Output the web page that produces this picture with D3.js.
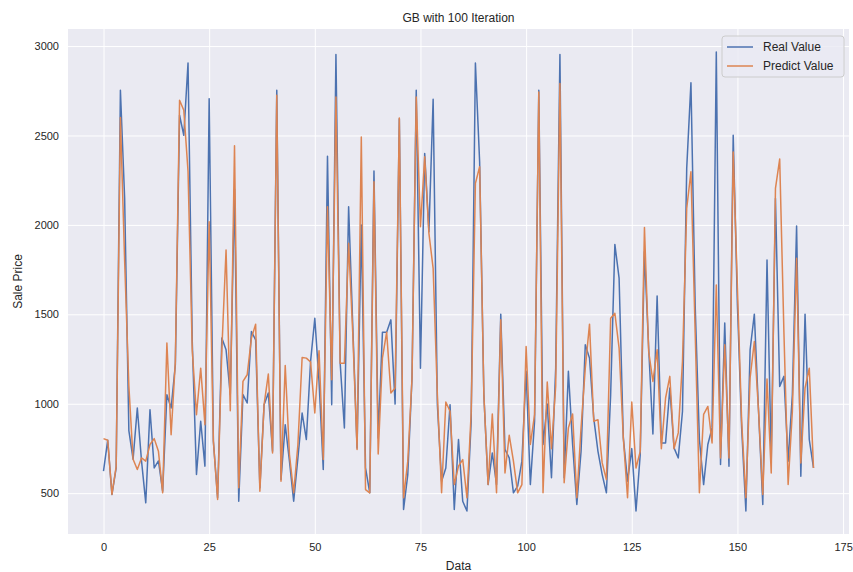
<!DOCTYPE html>
<html>
<head>
<meta charset="utf-8">
<script src="https://cdn.jsdelivr.net/npm/d3@7"></script>
<style>
  body { margin: 0; background: #fff; }
  text { font-family: "Liberation Sans", Arial, sans-serif; fill: #262626; }
</style>
</head>
<body>
<div id="chart"></div>
<script>
// values
const realValue = [
  623, 796, 493, 641, 2753, 2150, 850, 690, 976, 680,
  446, 967, 641, 680, 511, 1050, 976, 1218, 2613, 2501,
  2905, 1350, 604, 902, 651, 2706, 790, 474, 1367, 1302,
  1050, 2200, 455, 1051, 1004, 1404, 1357, 530, 995, 1060,
  734, 2753, 576, 883, 679, 455, 697, 948, 800, 1237,
  1478, 1125, 632, 2384, 995, 2953, 1227, 865, 2101, 1423,
  753, 1999, 641, 502, 2301, 809, 1400, 1400, 1469, 998,
  2594, 409, 604, 1144, 2753, 1199, 2399, 1962, 2702, 995,
  567, 641, 995, 409, 800, 455, 400, 900, 2905, 2353,
  1051, 548, 725, 548, 1501, 744, 697, 502, 539, 679,
  1181, 548, 902, 2753, 772, 998, 586, 1200, 2953, 586,
  1181, 772, 437, 734, 1330, 1255, 920, 734, 604, 502,
  1051, 1891, 1702, 809, 567, 749, 400, 716, 1850, 1311,
  831, 1603, 781, 781, 1088, 753, 697, 958, 2316, 2795,
  1550, 800, 548, 772, 865, 2967, 660, 1451, 651, 2501,
  1550, 865, 400, 1302, 1501, 958, 437, 1804, 679, 2148,
  1097, 1153, 679, 1051, 1994, 595, 1501, 800, 641
];
const predictValue = [
  805, 796, 493, 650, 2600, 1800, 1100, 690, 632, 697,
  679, 772, 805, 734, 502, 1339, 827, 1237, 2697, 2641,
  2300, 1300, 939, 1199, 883, 2018, 790, 465, 1300, 1860,
  961, 2442, 530, 1125, 1162, 1367, 1445, 511, 995, 1166,
  725, 2725, 567, 1214, 716, 502, 772, 1259, 1255, 1233,
  948, 1296, 688, 2101, 1134, 2715, 1227, 1227, 1897, 1385,
  744, 2492, 520, 502, 2241, 719, 1255, 1400, 1060, 1088,
  2598, 474, 679, 1144, 2715, 1990, 2381, 1953, 1757, 1051,
  502, 1010, 958, 548, 651, 688, 474, 950, 2232, 2325,
  1051, 548, 943, 502, 1469, 613, 824, 679, 502, 548,
  1320, 772, 939, 2743, 502, 1121, 749, 1100, 2790, 558,
  865, 943, 474, 865, 1199, 1445, 902, 911, 669, 576,
  1478, 1506, 1311, 809, 474, 1010, 641, 734, 1986, 1292,
  1125, 1302, 749, 1032, 1153, 749, 837, 1237, 2092, 2297,
  1400, 502, 940, 985, 781, 1664, 697, 1330, 697, 2408,
  1650, 902, 474, 1144, 1348, 958, 493, 1138, 613, 2204,
  2368, 1400, 548, 958, 1813, 669, 1088, 1199, 641
];
const xTicks = [0, 25, 50, 75, 100, 125, 150, 175];
const yTicks = [500, 1000, 1500, 2000, 2500, 3000];
const seriesNames = ["Real Value", "Predict Value"];
const seriesColors = ["#4c72b0", "#dd8452"];

const width = 853, height = 572;
const margin = {top: 29, right: 4, bottom: 38, left: 68};
const w = width - margin.left - margin.right;
const h = height - margin.top - margin.bottom;

const svg = d3.select("#chart").append("svg")
    .attr("width", width)
    .attr("height", height);

const g = svg.append("g")
    .attr("transform", `translate(${margin.left},${margin.top})`);

// matplotlib style 5% padding
const n = realValue.length;
const xPad = (n - 1) * 0.05;
const x = d3.scaleLinear().domain([-xPad, n - 1 + xPad]).range([0, w]);

const all = realValue.concat(predictValue);
const [yMin, yMax] = d3.extent(all);
const yPad = (yMax - yMin) * 0.05;
const y = d3.scaleLinear().domain([yMin - yPad, yMax + yPad]).range([h, 0]);

/* background + grid */
g.append("rect").attr("width", w).attr("height", h).attr("fill", "#eaeaf2");

g.append("g")
    .call(d3.axisBottom(x).tickValues(xTicks).tickSize(h).tickFormat(""))
    .call(s => s.select(".domain").remove())
    .selectAll("line").attr("stroke", "#fff").attr("stroke-width", 1);

g.append("g")
    .call(d3.axisLeft(y).tickValues(yTicks).tickSize(-w).tickFormat(""))
    .call(s => s.select(".domain").remove())
    .selectAll("line").attr("stroke", "#fff").attr("stroke-width", 1);

/* tick labels */
const xAx = g.append("g")
    .attr("transform", `translate(0,${h})`)
    .call(d3.axisBottom(x).tickValues(xTicks).tickSize(0).tickPadding(9).tickFormat(d3.format("d")));
xAx.select(".domain").remove();
xAx.selectAll("text").style("font-size", "11px").style("fill", "#262626");

const yAx = g.append("g")
    .call(d3.axisLeft(y).tickValues(yTicks).tickSize(0).tickPadding(9).tickFormat(d3.format("d")));
yAx.select(".domain").remove();
yAx.selectAll("text").style("font-size", "11px").style("fill", "#262626");

/* lines */
const line = d3.line().x((d, i) => x(i)).y(d => y(d));
[realValue, predictValue].forEach((arr, k) => {
    g.append("path")
        .datum(arr)
        .attr("fill", "none")
        .attr("stroke", seriesColors[k])
        .attr("stroke-width", 1.5)
        .attr("stroke-linejoin", "round")
        .attr("d", line);
});

/* legend */
const lg = g.append("g").attr("transform", `translate(${w - 127},7)`);
lg.append("rect")
    .attr("width", 122).attr("height", 41)
    .attr("rx", 3)
    .attr("fill", "#eaeaf2").attr("fill-opacity", 0.8)
    .attr("stroke", "#cccccc").attr("stroke-width", 1);
seriesNames.forEach((name, k) => {
    const yy = 11 + k * 19;
    lg.append("line")
        .attr("x1", 5).attr("x2", 31).attr("y1", yy).attr("y2", yy)
        .attr("stroke", seriesColors[k]).attr("stroke-width", 1.5);
    lg.append("text")
        .attr("x", 41).attr("y", yy + 4)
        .style("font-size", "12px")
        .text(name);
});

/* titles */
svg.append("text")
    .attr("x", margin.left + w / 2).attr("y", 22)
    .attr("text-anchor", "middle")
    .style("font-size", "12px")
    .text("GB with 100 Iteration");

svg.append("text")
    .attr("x", margin.left + w / 2).attr("y", 570)
    .attr("text-anchor", "middle")
    .style("font-size", "12px")
    .text("Data");

svg.append("text")
    .attr("transform", `translate(22,${margin.top + h / 2}) rotate(-90)`)
    .attr("text-anchor", "middle")
    .style("font-size", "12px")
    .text("Sale Price");
</script>
</body>
</html>
